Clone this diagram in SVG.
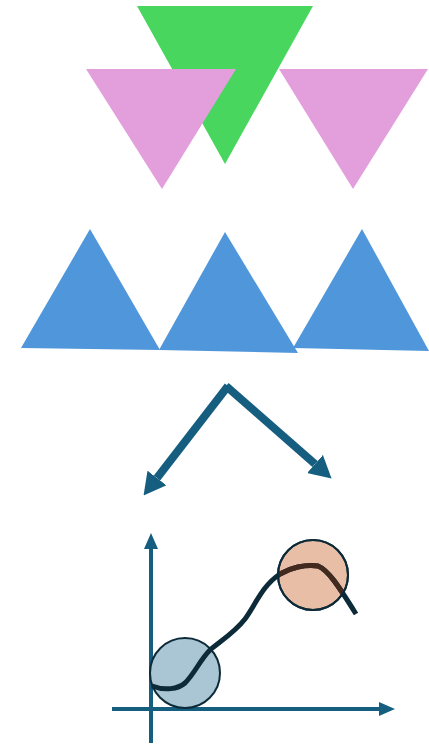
<svg xmlns="http://www.w3.org/2000/svg" width="429" height="745" viewBox="0 0 429 745">
<defs>
<style>
.green{fill:#48d65e}
.pink{fill:#e39edc}
.blue{fill:#5096da}
.arrow{stroke:#155e80;stroke-width:8;fill:none}
.axis{stroke:#155e80;stroke-width:4;fill:none}
.curve{stroke:#0d2a38;stroke-width:5;fill:none;stroke-linecap:butt;stroke-linejoin:round}
</style>
<marker id="ah" viewBox="0 0 22 24" refX="0" refY="12" markerWidth="22" markerHeight="24" orient="auto" markerUnits="userSpaceOnUse">
<path d="M0,0 L22,12 L0,24 z" fill="#155e80"/>
</marker>
<marker id="ax" viewBox="0 0 16 14" refX="0" refY="7" markerWidth="16" markerHeight="14" orient="auto" markerUnits="userSpaceOnUse">
<path d="M0,0 L16,7 L0,14 z" fill="#155e80"/>
</marker>
<clipPath id="orangeClip"><circle cx="313" cy="575" r="35"/></clipPath>
</defs>
<g id="triangle-green"><polygon class="green" points="137,6 313,6 225,164"/></g>
<g id="triangle-pink-left"><polygon class="pink" points="86,69 236,69 162,189"/></g>
<g id="triangle-pink-right"><polygon class="pink" points="279,69 428,69 353,189"/></g>
<g id="triangle-blue-left"><polygon class="blue" points="21,348 90,229 160,350"/></g>
<g id="triangle-blue-mid"><polygon class="blue" points="159,350 225,232 298,353"/></g>
<g id="triangle-blue-right"><polygon class="blue" points="293,348 362,229 429,351"/></g>
<g id="connectors">
<path class="arrow" d="M228,386 L157,478" marker-end="url(#ah)"/>
<path class="arrow" d="M226,386 L315,464" marker-end="url(#ah)"/>
</g>
<g id="chart">
<path class="axis" d="M151,743 L151,549" marker-end="url(#ax)"/>
<path class="axis" d="M112,709 L379,709" marker-end="url(#ax)"/>
<circle cx="185" cy="673" r="35" fill="#aac5d3" stroke="#0d2a38" stroke-width="2"/>
<circle cx="313" cy="575" r="35" fill="#e8bea6" stroke="#0d2a38" stroke-width="2"/>
<path id="c" class="curve" d="M152,686 C165,691 178,689 185,683 C195,673 200,660 210,650 C222,640 235,632 245,619 C256,604 262,586 280,574 C290,568 305,564 318,566 C328,570 338,585 356,614"/>
<path class="curve" style="stroke:#432a1f" clip-path="url(#orangeClip)" d="M152,686 C165,691 178,689 185,683 C195,673 200,660 210,650 C222,640 235,632 245,619 C256,604 262,586 280,574 C290,568 305,564 318,566 C328,570 338,585 356,614"/>
<circle cx="313" cy="575" r="35" fill="none" stroke="#0d2a38" stroke-width="2"/>
</g>
</svg>
